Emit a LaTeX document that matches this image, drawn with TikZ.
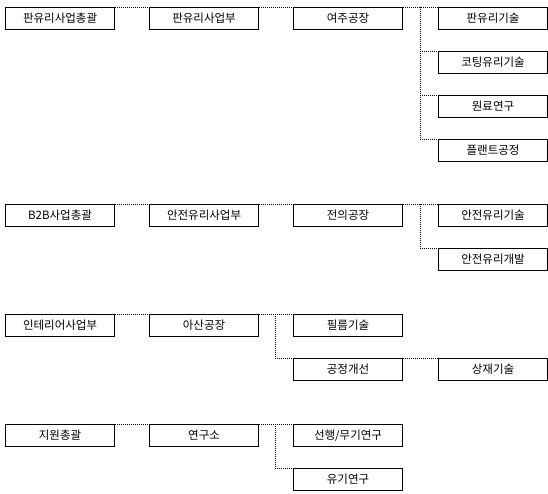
\documentclass[tikz,border=0pt]{standalone}
\usepackage{fontspec}
\newfontfamily\kr{Noto Sans CJK KR}
\begin{document}
\begin{tikzpicture}[x=1pt,y=-1pt,
  box/.style={draw=black,line width=1.1pt,rectangle,minimum width=109pt,minimum height=22pt,inner sep=0pt,anchor=north west,font=\kr\fontsize{11.5}{13}\selectfont},
  conn/.style={draw=black,line width=0.9pt,dash pattern=on 1pt off 1pt}]
\useasboundingbox (0,0) rectangle (548,494);
\fill[white] (0,0) rectangle (548,494);
% group 1
\node[box] (a1) at (5,7) {판유리사업총괄};
\node[box] (a2) at (149,7) {판유리사업부};
\node[box] (a3) at (293,7) {여주공장};
\node[box] (a4) at (438,7) {판유리기술};
\node[box] (a5) at (438,51) {코팅유리기술};
\node[box] (a6) at (438,95) {원료연구};
\node[box] (a7) at (438,139) {플랜트공정};
\coordinate (ja) at (420,7);
\draw[conn] (a1.north east) -- (a2.north west);
\draw[conn] (a2.north east) -- (a3.north west);
\draw[conn] (a3.north east) -- (a4.north west);
\draw[conn] (ja) |- (a5.north west);
\draw[conn] (ja) |- (a6.north west);
\draw[conn] (ja) |- (a7.north west);
% group 2
\node[box] (b1) at (5,204) {B2B사업총괄};
\node[box] (b2) at (149,204) {안전유리사업부};
\node[box] (b3) at (293,204) {전의공장};
\node[box] (b4) at (438,204) {안전유리기술};
\node[box] (b5) at (438,248) {안전유리개발};
\coordinate (jb) at (420,204);
\draw[conn] (b1.north east) -- (b2.north west);
\draw[conn] (b2.north east) -- (b3.north west);
\draw[conn] (b3.north east) -- (b4.north west);
\draw[conn] (jb) |- (b5.north west);
% group 3
\node[box] (c1) at (5,314) {인테리어사업부};
\node[box] (c2) at (149,314) {아산공장};
\node[box] (c3) at (293,314) {필름기술};
\node[box] (c4) at (293,358) {공정개선};
\node[box] (c5) at (438,358) {상재기술};
\coordinate (jc) at (275,314);
\draw[conn] (c1.north east) -- (c2.north west);
\draw[conn] (c2.north east) -- (c3.north west);
\draw[conn] (jc) |- (c4.north west);
\draw[conn] (c4.north east) -- (c5.north west);
% group 4
\node[box] (d1) at (5,424) {지원총괄};
\node[box] (d2) at (149,424) {연구소};
\node[box] (d3) at (293,424) {선행/무기연구};
\node[box] (d4) at (293,468) {유기연구};
\coordinate (jd) at (275,424);
\draw[conn] (d1.north east) -- (d2.north west);
\draw[conn] (d2.north east) -- (d3.north west);
\draw[conn] (jd) |- (d4.north west);
\end{tikzpicture}
\end{document}
